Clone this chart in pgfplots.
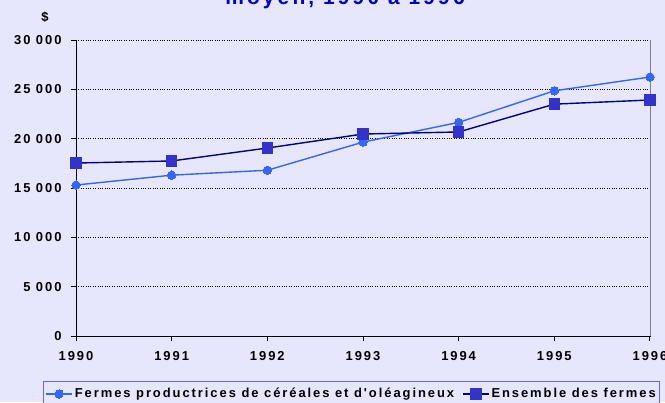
\documentclass[border=0pt]{standalone}
\usepackage{pgfplots}
\pgfplotsset{compat=1.18}
\usepackage{fontspec}
\setmainfont{Liberation Sans}[LetterSpace=15, Ligatures=TeXOff]
\definecolor{bg}{RGB}{230,230,252}
\definecolor{serA}{RGB}{51,102,255}
\definecolor{serBline}{RGB}{0,0,128}
\definecolor{serBmark}{RGB}{51,51,204}
\definecolor{legbord}{RGB}{102,102,238}
\definecolor{titlec}{RGB}{0,0,204}
\begin{document}
\begin{tikzpicture}[x=1bp,y=1bp]
\fill[bg] (0,0) rectangle (665,402);
\useasboundingbox (0,0) rectangle (665,402);
\node[anchor=base,text=titlec,font=\fontsize{21}{24}\selectfont\bfseries] at (345,397) {moyen, 1990 à 1996};
\node[font=\fontsize{13}{15}\selectfont\bfseries] at (45,385) {\$};
\begin{axis}[
  at={(76bp,66bp)}, anchor=origin,
  width=574bp, height=296bp, scale only axis,
  xmin=1990, xmax=1996, ymin=0, ymax=30000,
  xtick={1990,...,1996},
  ytick={0,5000,...,30000},
  scaled y ticks=false,
  axis x line*=bottom, axis y line*=left,
  axis line style={black, line width=0.9pt, -},
  tick style={black, line width=0.9pt},
  tick align=outside,
  major tick length=5bp,
  ymajorgrids,
  major grid style={black, dotted, line width=0.7pt},
  xticklabel style={font=\fontsize{13}{15}\selectfont\bfseries, yshift=-7bp},
  yticklabel style={font=\fontsize{13}{15}\selectfont\bfseries, xshift=-6bp},
  xticklabel={\pgfmathprintnumber[1000 sep={}]{\tick}},
  yticklabel={\pgfmathprintnumber[1000 sep={\ }]{\tick}},
  /pgf/number format/assume math mode=true,
  legend columns=2,
  legend image code/.code={
    \draw[#1] (0bp,0bp) -- (26bp,0bp);
    \draw[#1, only marks] plot coordinates {(13bp,0bp)};
  },
  legend style={at={(-0.0575,-0.152)}, anchor=north west, draw=legbord, fill=bg,
    line width=0.9pt,
    font=\fontsize{13}{15}\selectfont\bfseries, inner xsep=2bp, inner ysep=5bp,
    /tikz/every even column/.append style={column sep=6bp}},
  legend cell align=left,
  clip=false,
]
\draw[gray, line width=0.9pt] (axis cs:1996,0) -- (axis cs:1996,30000);
\addplot[serA, line width=1.4pt, mark=*, mark size=4.2bp, mark options={fill=serA, draw=serA, line width=0pt}]
  coordinates {(1990,15300) (1991,16300) (1992,16800) (1993,19650) (1994,21650) (1995,24850) (1996,26250)};
\addlegendentry{Fermes productrices de céréales et d'oléagineux}
\addplot[serBline, line width=1.4pt, mark=square*, mark size=5.2bp, mark options={fill=serBmark, draw=serBmark, line width=0pt}]
  coordinates {(1990,17530) (1991,17740) (1992,19050) (1993,20470) (1994,20680) (1995,23500) (1996,23920)};
\addlegendentry{Ensemble des fermes}
\end{axis}
\end{tikzpicture}
\end{document}
